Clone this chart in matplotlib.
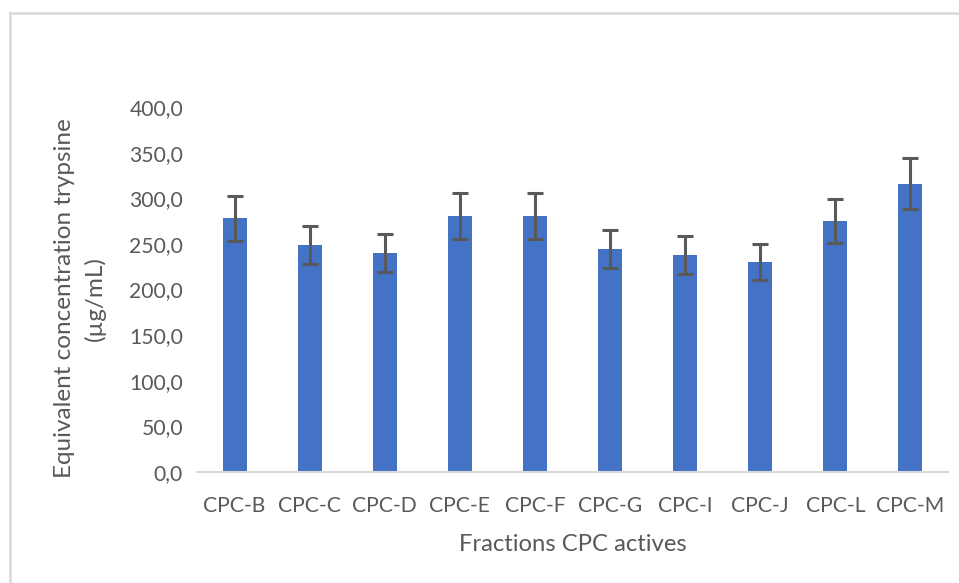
import numpy as np
import matplotlib.pyplot as plt
from matplotlib.lines import Line2D

# trypsin-equivalent concentration of the active CPC fractions
fractions = ["CPC-B", "CPC-C", "CPC-D", "CPC-E", "CPC-F",
             "CPC-G", "CPC-I", "CPC-J", "CPC-L", "CPC-M"]
conc = [278.0, 248.5, 240.0, 280.5, 280.5, 244.5, 237.5, 230.0, 275.0, 316.0]
err = [24.5, 21.0, 20.3, 24.8, 24.8, 21.2, 21.0, 19.7, 24.0, 28.3]
yticks = [0, 50, 100, 150, 200, 250, 300, 350, 400]

plt.rcParams["font.family"] = ["Lato", "DejaVu Sans"]
txt = "#595959"

fig = plt.figure(figsize=(9.59, 5.83), dpi=100)
ax = fig.add_axes([197 / 959, 1 - 472 / 583, (948 - 197) / 959, (472 - 107) / 583])

x = np.arange(len(fractions))
ax.bar(x, conc, width=0.32, color="#4472c4", zorder=2)
ax.errorbar(x, conc, yerr=err, fmt="none", ecolor="#595959",
            elinewidth=2.2, capsize=5.5, capthick=2.2, zorder=3)

ax.set_xlim(-0.5, len(fractions) - 0.5)
ax.set_ylim(0, 400)
ax.set_yticks(yticks)
ax.set_yticklabels([f"{v:.1f}".replace(".", ",") for v in yticks])
ax.set_xticks(x)
ax.set_xticklabels(fractions)
ax.tick_params(axis="both", length=0, labelsize=15.2, colors=txt)
ax.tick_params(axis="x", pad=17)
ax.tick_params(axis="y", pad=10)

for s in ["top", "right", "left"]:
    ax.spines[s].set_visible(False)
ax.spines["bottom"].set_color("#d9d9d9")
ax.spines["bottom"].set_linewidth(1.5)

ax.set_xlabel("Fractions CPC actives", fontsize=17.2, color=txt, labelpad=13)
ax.set_ylabel("Equivalent concentration trypsine\n(µg/mL)", fontsize=17.5,
              color=txt, linespacing=1.45)
ax.yaxis.set_label_coords(-0.122, 0.475)

# chart frame (open on the right and bottom)
W, H = 959, 583
fig.add_artist(Line2D([9.5 / W, 9.5 / W], [0, 1 - 12.5 / H],
                      transform=fig.transFigure, color="#d9d9d9", lw=1.8))
fig.add_artist(Line2D([9.5 / W, 1], [1 - 12.5 / H, 1 - 12.5 / H],
                      transform=fig.transFigure, color="#d9d9d9", lw=1.8))

fig.savefig("out.png", dpi=100)
